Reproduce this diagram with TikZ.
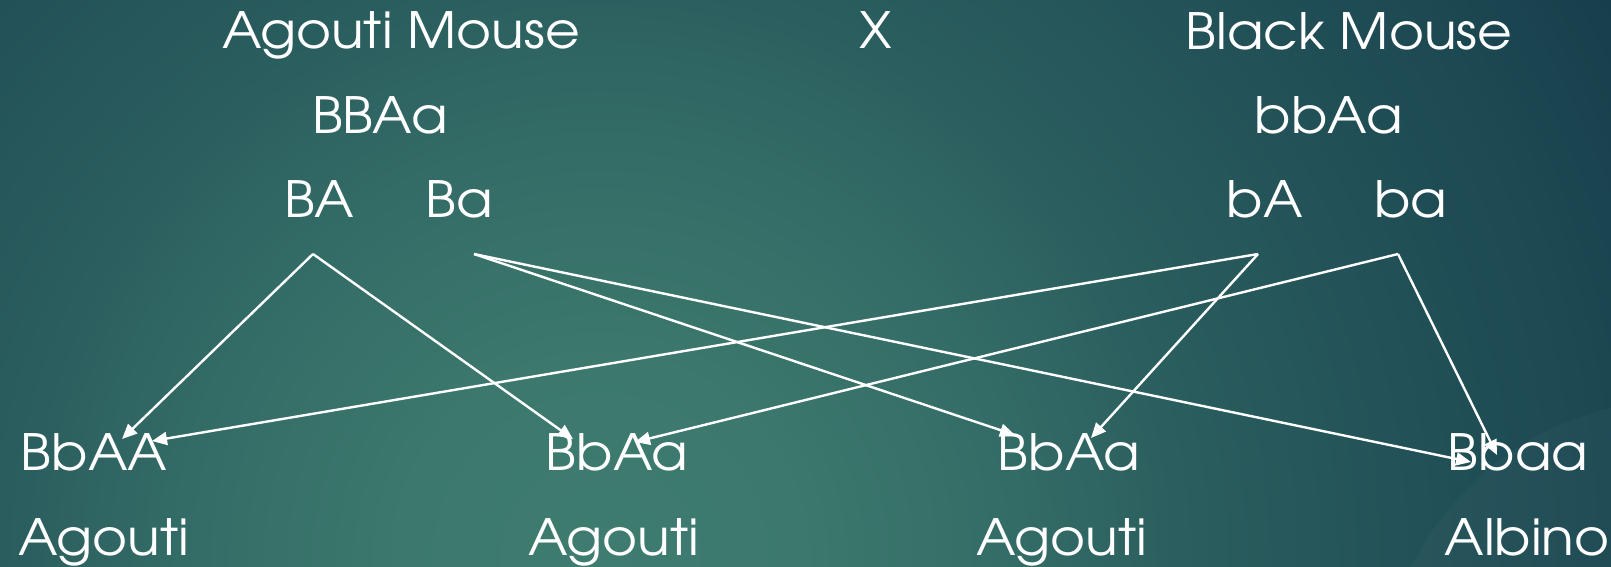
\documentclass[tikz,border=0pt]{standalone}
\usepackage{fontspec}
\IfFontExistsTF{texgyreadventor-regular.otf}
  {\setmainfont{texgyreadventor-regular.otf}[FakeStretch=1.07]}
  {\setmainfont{Poppins}}
\usetikzlibrary{arrows.meta}

\definecolor{bgA}{HTML}{3F7C70}
\definecolor{bgB}{HTML}{3C786D}
\definecolor{bgC}{HTML}{346D67}
\definecolor{bgD}{HTML}{2A5D5E}
\definecolor{bgE}{HTML}{225157}
\definecolor{bgF}{HTML}{1C4852}
\definecolor{bgG}{HTML}{173E4B}

% radial fade; the inner 50bp square is stretched over a 2400 x 2400 box,
% so 1bp corresponds to 48 units of the picture
\pgfdeclareradialshading{slidebg}{\pgfpoint{0bp}{0bp}}{%
  color(0bp)=(bgA); color(4.2bp)=(bgB); color(8.3bp)=(bgC);
  color(12.5bp)=(bgD); color(17.1bp)=(bgE); color(21bp)=(bgF);
  color(24.1bp)=(bgG); color(50bp)=(bgG)}

\tikzset{
  lbl/.style={text=white, inner sep=0pt, anchor=base, font=\fontsize{50}{50}\selectfont},
  cross/.style={draw=white, line width=2.4pt, -{Triangle[length=15pt,width=13pt]}},
}

\begin{document}
\begin{tikzpicture}[x=1pt, y=-1pt]
  % slide background
  \useasboundingbox (0,0) rectangle (1611,566);
  \begin{scope}
    \clip (0,0) rectangle (1611,566);
    \shade[shading=slidebg] (-600,-640) rectangle (1800,1760);
    \fill[white, opacity=0.025] (1680,700) circle (300);
  \end{scope}

  % parents
  \node[lbl] (pa)  at (401,48)  {Agouti Mouse};
  \node[lbl] (x)   at (876,48)  {X};
  \node[lbl] (pb)  at (1349,49) {Black Mouse};
  \node[lbl] (ga)  at (380,133) {BBAa};
  \node[lbl] (gb)  at (1329,133) {bbAa};

  % gametes
  \node[lbl] (m1) at (319,217)  {BA};
  \node[lbl] (m2) at (459,217)  {Ba};
  \node[lbl] (f1) at (1265,217) {bA};
  \node[lbl] (f2) at (1411,217) {ba};

  % offspring genotypes
  \node[lbl] (o1) at (94,470)   {BbAA};
  \node[lbl] (o2) at (617,470)  {BbAa};
  \node[lbl] (o3) at (1069,470) {BbAa};
  \node[lbl] (o4) at (1518,470) {Bbaa};

  % offspring phenotypes
  \node[lbl] (p1) at (104,555)  {Agouti};
  \node[lbl] (p2) at (614,555)  {Agouti};
  \node[lbl] (p3) at (1062,555) {Agouti};
  \node[lbl] (p4) at (1527,555) {Albino};

  % connector ends
  \coordinate (sm1) at (313,254);
  \coordinate (sm2) at (474,254);
  \coordinate (sf1) at (1258,254);
  \coordinate (sf2) at (1398,254);

  \coordinate (e11) at (122,439);
  \coordinate (e12) at (152,441);
  \coordinate (e21) at (573,439);
  \coordinate (e22) at (635,442);
  \coordinate (e31) at (1015,435);
  \coordinate (e32) at (1091,438);
  \coordinate (e41) at (1471,462);
  \coordinate (e42) at (1497,455);

  % gamete combinations
  \draw[cross] (sm1) -- (e11);
  \draw[cross] (sm1) -- (e21);
  \draw[cross] (sm2) -- (e31);
  \draw[cross] (sm2) -- (e41);
  \draw[cross] (sf1) -- (e12);
  \draw[cross] (sf1) -- (e32);
  \draw[cross] (sf2) -- (e22);
  \draw[cross] (sf2) -- (e42);
\end{tikzpicture}
\end{document}
